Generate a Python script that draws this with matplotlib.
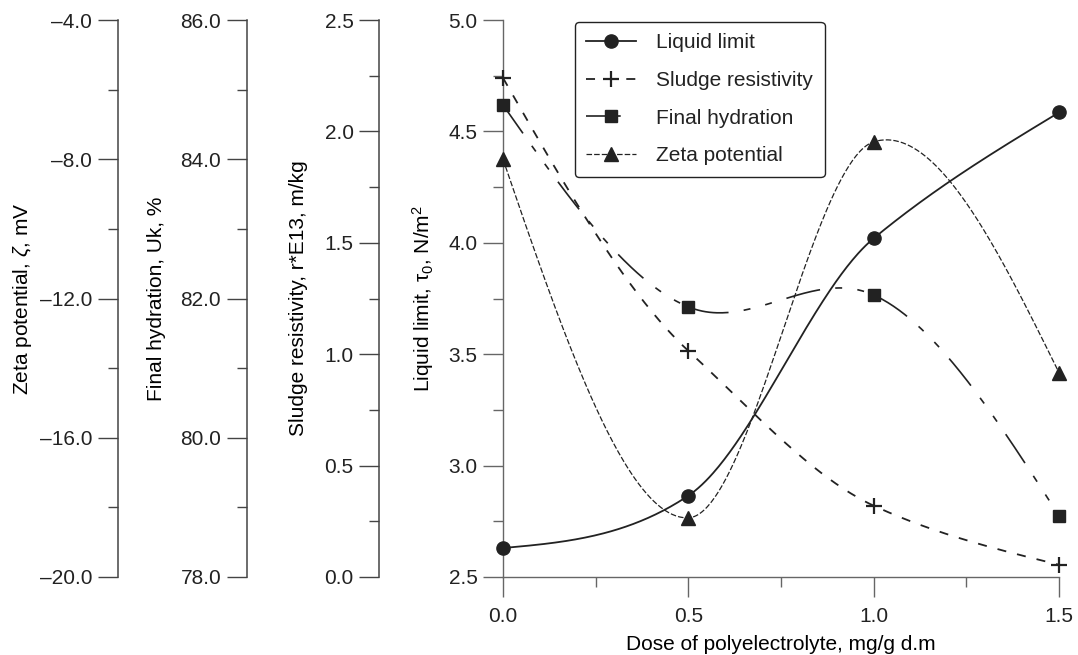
import numpy as np
import matplotlib
matplotlib.use('Agg')
import matplotlib.pyplot as plt
from matplotlib.ticker import MultipleLocator, FuncFormatter

plt.rcParams['font.family'] = ['Liberation Sans', 'DejaVu Sans']
plt.rcParams['mathtext.fontset'] = 'custom'
plt.rcParams['mathtext.rm'] = 'Liberation Sans'
plt.rcParams['mathtext.it'] = 'Liberation Sans:italic'
plt.rcParams['lines.scale_dashes'] = False
plt.rcParams['text.color'] = '#222222'

# Datos
dosis = [0.0, 0.5, 1.0, 1.5]                 # mg/g d.m
liquid_limit = [2.63, 2.865, 4.02, 4.585]    # N/m2
sludge_resistivity = [2.24, 1.015, 0.32, 0.055]  # r*E13, m/kg
final_hydration = [84.78, 81.88, 82.05, 78.88]   # %
zeta_potential = [-8.0, -18.3, -7.5, -14.13]     # mV


def curva_suave(x, y, tension=0.8, n=300):
    # spline cardinal (tipo Catmull-Rom) con extremos "naturales"
    x = np.asarray(x, float)
    y = np.asarray(y, float)
    k = len(x)
    m = np.zeros(k)
    for i in range(1, k - 1):
        m[i] = tension * (y[i + 1] - y[i - 1]) / (x[i + 1] - x[i - 1])
    m[0] = (3 * (y[1] - y[0]) / (x[1] - x[0]) - m[1]) / 2
    m[-1] = (3 * (y[-1] - y[-2]) / (x[-1] - x[-2]) - m[-2]) / 2
    xs = np.linspace(x[0], x[-1], n)
    j = np.clip(np.searchsorted(x, xs, side='right') - 1, 0, k - 2)
    h = x[j + 1] - x[j]
    s = (xs - x[j]) / h
    h00 = 2 * s**3 - 3 * s**2 + 1
    h10 = s**3 - 2 * s**2 + s
    h01 = -2 * s**3 + 3 * s**2
    h11 = s**3 - s**2
    ys = h00 * y[j] + h10 * h * m[j] + h01 * y[j + 1] + h11 * h * m[j + 1]
    return xs, ys


def fmt(v, pos):
    txt = '%.1f' % abs(v)
    return ('\u2013' + txt) if v < -1e-9 else txt


fig = plt.figure(figsize=(10.78, 6.55), dpi=100)
ax = fig.add_axes([503 / 1078, 1 - 577 / 655, 556 / 1078, 557 / 655])

TICK_FS = 15
LABEL_FS = 15
negro = '#222222'


def estilo_eje(a, color):
    a.tick_params(axis='y', which='major', length=14.4, width=1, pad=4, labelsize=TICK_FS,
                  color=color, labelcolor=negro)
    a.tick_params(axis='y', which='minor', length=7.2, width=1, color=color)


# eje principal: limite liquido
ax.set_xlim(0, 1.5)
ax.set_ylim(2.5, 5.0)
for s in ['top', 'right']:
    ax.spines[s].set_visible(False)
for s in ['left', 'bottom']:
    ax.spines[s].set_color('#666666')
    ax.spines[s].set_linewidth(1)
ax.xaxis.set_major_locator(MultipleLocator(0.5))
ax.xaxis.set_minor_locator(MultipleLocator(0.25))
ax.yaxis.set_major_locator(MultipleLocator(0.5))
ax.yaxis.set_minor_locator(MultipleLocator(0.25))
ax.xaxis.set_major_formatter(FuncFormatter(fmt))
ax.yaxis.set_major_formatter(FuncFormatter(fmt))
ax.tick_params(axis='x', which='major', length=14.4, width=1, pad=7, labelsize=TICK_FS,
               color='#666666', labelcolor=negro)
ax.tick_params(axis='x', which='minor', length=7.2, width=1, color='#666666')
estilo_eje(ax, '#666666')
ax.set_xlabel('Dose of polyelectrolyte, mg/g d.m', fontsize=LABEL_FS, labelpad=7)
ax.set_ylabel('Liquid limit, τ$_0$, N/m$^2$', fontsize=LABEL_FS)
ax.yaxis.set_label_coords(-0.121, 0.5)

# ejes adicionales a la izquierda
ax_sr = ax.twinx()
ax_fh = ax.twinx()
ax_zp = ax.twinx()
ejes = [
    (ax_sr, (0.0, 2.5), 0.5, 0.25, -0.2225, 'Sludge resistivity, r*E13, m/kg', -0.350),
    (ax_fh, (78.0, 86.0), 2.0, 1.0, -0.461, 'Final hydration, Uk, %', -0.606),
    (ax_zp, (-20.0, -4.0), 4.0, 2.0, -0.693, r'Zeta potential, $\zeta$, mV', -0.843),
]
for a, lim, maj, mnr, pos, lab, lx in ejes:
    a.set_ylim(*lim)
    for s in ['top', 'right', 'bottom']:
        a.spines[s].set_visible(False)
    a.spines['left'].set_visible(True)
    a.spines['left'].set_position(('axes', pos))
    a.spines['left'].set_color('#444444')
    a.spines['left'].set_linewidth(1.1)
    a.yaxis.set_ticks_position('left')
    a.yaxis.set_label_position('left')
    a.yaxis.set_major_locator(MultipleLocator(maj))
    a.yaxis.set_minor_locator(MultipleLocator(mnr))
    a.yaxis.set_major_formatter(FuncFormatter(fmt))
    estilo_eje(a, '#444444')
    a.set_ylabel(lab, fontsize=LABEL_FS)
    a.yaxis.set_label_coords(lx, 0.5)

# series
series = [
    (ax, liquid_limit, 'Liquid limit', 'o', 9.5, '-', 1.3),
    (ax_sr, sludge_resistivity, 'Sludge resistivity', '+', 12, (0, (6.5, 8)), 1.3),
    (ax_fh, final_hydration, 'Final hydration', 's', 8.5, (0, (25, 11, 5, 11, 5, 11)), 1.2),
    (ax_zp, zeta_potential, 'Zeta potential', '^', 9.5, (0, (4, 1.5)), 0.9),
]
handles = []
for a, vals, nombre, mk, ms, ls, lw in series:
    xs, ys = curva_suave(dosis, vals)
    a.plot(xs, ys, color=negro, linestyle=ls, linewidth=lw, clip_on=False)
    a.plot(dosis, vals, linestyle='none', marker=mk, markersize=ms, color=negro,
           markeredgewidth=1.6 if mk == '+' else 1, clip_on=False, zorder=5)
    h, = a.plot([], [], color=negro, linestyle=ls, linewidth=lw, marker=mk,
                markersize=ms, markeredgewidth=1.6 if mk == '+' else 1, label=nombre)
    handles.append(h)

leg = ax_zp.legend(handles=handles, loc='upper left', bbox_to_anchor=(575 / 1078, 1 - 21.7 / 655),
                   bbox_transform=fig.transFigure, fontsize=15, frameon=True, fancybox=True,
                   edgecolor='#222222', handlelength=2.4, handletextpad=0.95, labelspacing=0.9,
                   borderpad=0.55, borderaxespad=0, numpoints=1, framealpha=1)
leg.get_frame().set_linewidth(1.0)
leg.set_zorder(10)

fig.savefig('out.png', dpi=100)
